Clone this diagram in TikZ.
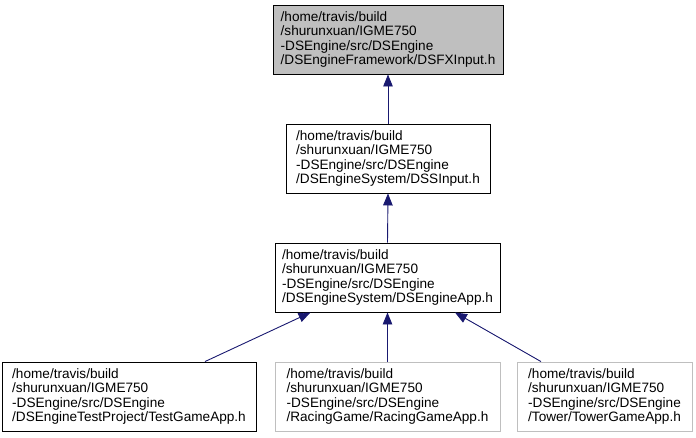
\documentclass[tikz,border=0pt]{standalone}
\usepackage{fontspec}
\setmainfont{Liberation Sans}
\usepackage{xcolor}
\definecolor{azulSeta}{RGB}{25,25,112}
\definecolor{cinzaNo}{RGB}{191,191,191}
\usetikzlibrary{arrows.meta,positioning,calc}

\begin{document}
\begin{tikzpicture}[x=1pt,y=-1pt,
  ficheiro/.style={draw=black, line width=0.9pt, minimum height=69pt,
    inner xsep=0pt, inner ysep=2pt, align=left,
    font=\fontsize{13.6}{14.2}\selectfont},
  seta/.style={draw=azulSeta, line width=0.9pt,
    {Triangle[length=12pt,width=9.5pt,fill=azulSeta]}-}]
  \useasboundingbox (0,0) rectangle (696,437);

  % cadeia central
  \node[ficheiro, fill=cinzaNo, minimum width=230pt] (framework) at (388,39.5)
  {/home/travis/build\\/shurunxuan/IGME750\\-DSEngine/src/DSEngine\\/DSEngineFramework/DSFXInput.h};
  \node[ficheiro, minimum width=204pt] (input) at (388,158.5)
  {/home/travis/build\\/shurunxuan/IGME750\\-DSEngine/src/DSEngine\\/DSEngineSystem/DSSInput.h};
  \node[ficheiro, minimum width=225pt] (app) at (387.5,277.5)
  {/home/travis/build\\/shurunxuan/IGME750\\-DSEngine/src/DSEngine\\/DSEngineSystem/DSEngineApp.h};

  % ficheiros que incluem
  \foreach \nome/\x/\w/\cor/\pasta in {
    test/129/254/black/{DSEngineTestProject/TestGameApp.h},
    racing/387.5/225/cinzaNo/{RacingGame/RacingGameApp.h},
    tower/604.5/175/cinzaNo/{Tower/TowerGameApp.h}%
  }{
    \node[ficheiro, draw=\cor, minimum width=\w pt] (\nome) at (\x,396.5)
    {/home/travis/build\\/shurunxuan/IGME750\\-DSEngine/src/DSEngine\\/\pasta};
  }

  \draw[seta] (framework.south) -- (input.north);
  \draw[seta] (input.south) -- (app.north);
  \draw[seta] ([xshift=-77pt]app.south) -- ([xshift=76pt]test.north);
  \draw[seta] (app.south) -- (racing.north);
  \draw[seta] ([xshift=67.5pt]app.south) -- ([xshift=-63.5pt]tower.north);
\end{tikzpicture}
\end{document}
